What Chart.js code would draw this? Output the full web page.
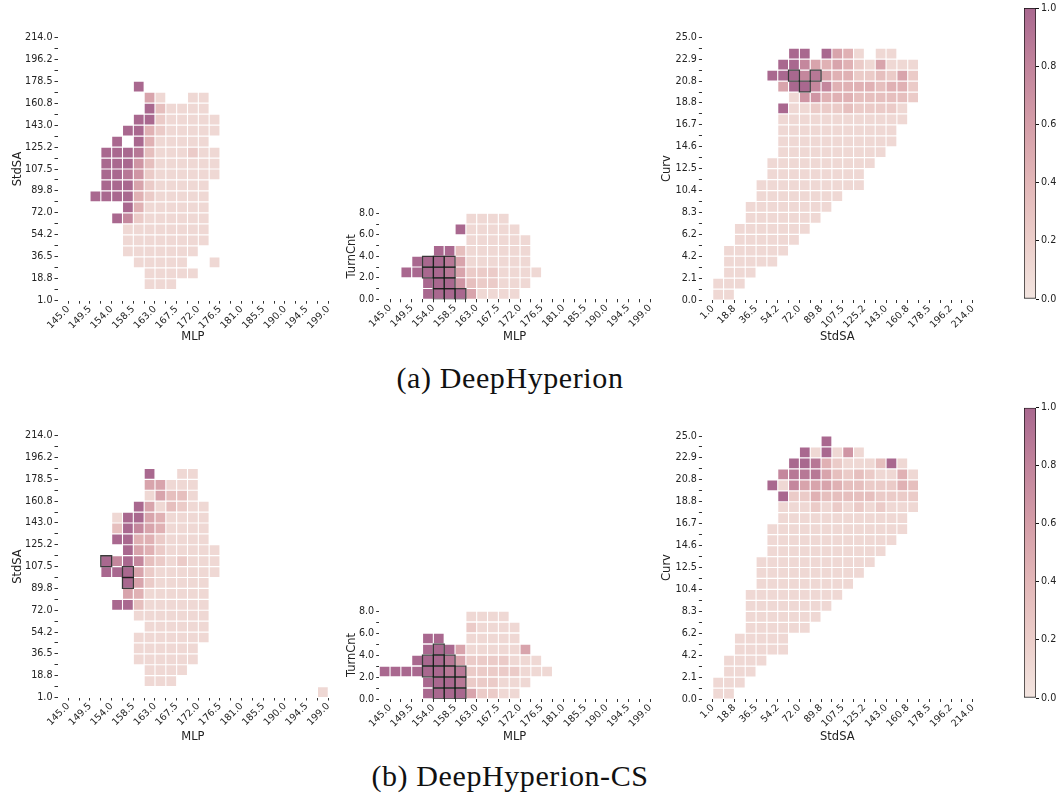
<!DOCTYPE html>
<html>
<head>
<meta charset="utf-8">
<script src="https://cdn.jsdelivr.net/npm/chart.js@4.4.1/dist/chart.umd.min.js"></script>
<style>
  html, body { margin: 0; padding: 0; background: #fff; }
  #fig { position: relative; width: 1060px; height: 796px; overflow: hidden; background: #fff; }
  #fig canvas { position: absolute; }
  .cap { position: absolute; left: 0; width: 1020px; text-align: center; line-height: 1;
         font-family: 'Liberation Serif', 'DejaVu Serif', serif; font-size: 30px; letter-spacing: 0.6px; color: #111; }
</style>
</head>
<body>
<div id="fig">
  <div class="cap" style="top:363px">(a) DeepHyperion</div>
  <div class="cap" style="top:761px">(b) DeepHyperion-CS</div>
</div>
<script>
// ---- tick labels (one label every second bin edge) ----
const mlpTicks = ['145.0','149.5','154.0','158.5','163.0','167.5','172.0','176.5','181.0','185.5','190.0','194.5','199.0'];
const stdsaTicks = ['1.0','18.8','36.5','54.2','72.0','89.8','107.5','125.2','143.0','160.8','178.5','196.2','214.0'];
const curvTicks = ['0.0','2.1','4.2','6.2','8.3','10.4','12.5','14.6','16.7','18.8','20.8','22.9','25.0'];
const turnCntTicks = ['0.0','2.0','4.0','6.0','8.0'];
const colorbarTicks = [0, 0.2, 0.4, 0.6, 0.8, 1.0];

// ---- feature-map cells: [row, first column, run]; '.' = empty bin, digit d = value d/9 ----
// DeepHyperion: StdSA vs MLP
const dhStdsaMlp = [
  [19, 6, '9'],
  [18, 7, '51..11'],
  [17, 7, '931111'],
  [16, 6, '99211111'],
  [15, 5, '994211111'],
  [14, 4, '9.9411111'],
  [13, 3, '99983111211'],
  [12, 3, '99963111111'],
  [11, 3, '99862111111'],
  [10, 3, '9995211111'],
  [9, 2, '99994211111'],
  [8, 5, '94111111'],
  [7, 4, '972111111'],
  [6, 5, '11111111'],
  [5, 5, '11111111'],
  [4, 5, '1111111'],
  [3, 6, '11111..1'],
  [2, 7, '11111'],
  [1, 7, '111']
];
// DeepHyperion: TurnCnt vs MLP
const dhTurnMlp = [
  [7, 7, '1111'],
  [6, 6, '911111'],
  [5, 7, '111111'],
  [4, 4, '993111111'],
  [3, 2, '99985111111'],
  [2, 1, '9999852221111'],
  [1, 3, '9996322111'],
  [0, 3, '999951111']
];
// DeepHyperion: Curv vs StdSA
const dhCurvStdsa = [
  [22, 7, '99.9541.11'],
  [21, 6, '9975454215111'],
  [20, 5, '99978544223252'],
  [19, 6, '5997744443442'],
  [18, 7, '166444333332'],
  [17, 6, '911222322221'],
  [16, 6, '111111111111'],
  [15, 6, '11111111111'],
  [14, 6, '11111111111'],
  [13, 6, '1111111111'],
  [12, 5, '1111111111'],
  [11, 5, '111111111'],
  [10, 4, '1111111111'],
  [9, 4, '11111111'],
  [8, 3, '11111111'],
  [7, 3, '1111111'],
  [6, 2, '1111111'],
  [5, 2, '111111'],
  [4, 1, '111111'],
  [3, 1, '11111'],
  [2, 1, '111'],
  [1, 0, '111'],
  [0, 0, '11']
];
// DeepHyperion-CS: StdSA vs MLP
const csStdsaMlp = [
  [20, 7, '9..11'],
  [19, 7, '55111'],
  [18, 7, '15331'],
  [17, 6, '9513211'],
  [16, 4, '199541111'],
  [15, 4, '397541111'],
  [14, 4, '994421111'],
  [13, 5, '954211111'],
  [12, 3, '97973212111'],
  [11, 3, '99952111111'],
  [10, 5, '95211111'],
  [9, 5, '54111111'],
  [8, 4, '993111111'],
  [7, 6, '1111111'],
  [6, 7, '111111'],
  [5, 6, '1111111'],
  [4, 6, '111111'],
  [3, 6, '111111'],
  [2, 7, '1111'],
  [1, 7, '111'],
  [0, 23, '1']
];
// DeepHyperion-CS: TurnCnt vs MLP
const csTurnMlp = [
  [7, 7, '1111'],
  [6, 7, '21111'],
  [5, 3, '99..11111'],
  [4, 3, '9995111115'],
  [3, 2, '999852222111'],
  [2, -1, '9999998822222111'],
  [1, 3, '9998222111'],
  [0, 3, '999952211']
];
// DeepHyperion-CS: Curv vs StdSA
const csCurvStdsa = [
  [23, 10, '9'],
  [22, 8, '919161'],
  [21, 7, '99842111391'],
  [20, 6, '7888532321141'],
  [19, 5, '91755543322243'],
  [18, 6, '9224333332222'],
  [17, 6, '1112121212111'],
  [16, 6, '111111111111'],
  [15, 5, '1111111111111'],
  [14, 5, '111111111111'],
  [13, 5, '11111111111'],
  [12, 4, '11111111111'],
  [11, 4, '1111111111'],
  [10, 4, '111111111'],
  [9, 3, '111111111'],
  [8, 3, '11111111'],
  [7, 3, '1111111'],
  [6, 3, '111111'],
  [5, 2, '11111'],
  [4, 2, '11111'],
  [3, 1, '1111'],
  [2, 1, '111'],
  [1, 0, '111'],
  [0, 0, '11']
];

// ---- highlighted bins: [column, row] ----
const dhTurnMlpMarked = [[3,3],[4,3],[5,3],[3,2],[4,2],[5,2],[4,1],[5,1],[4,0],[5,0],[6,0]];
const dhCurvStdsaMarked = [[7,20],[9,20],[8,19]];
const csStdsaMlpMarked = [[3,12],[5,11],[5,10]];
const csTurnMlpMarked = [[4,4],[3,3],[4,3],[5,3],[3,2],[4,2],[5,2],[6,2],[4,1],[5,1],[6,1],[4,0],[5,0],[6,0]];

// ---- colour scale (light rose to mauve) ----
const cmapStops = [
  [0.0, [243, 229, 224]],
  [0.2, [236, 206, 202]],
  [0.4, [227, 183, 184]],
  [0.6, [213, 158, 168]],
  [0.8, [194, 132, 156]],
  [1.0, [169, 104, 143]]
];
function rgb(c) { return 'rgb(' + c.map(Math.round).join(',') + ')'; }
function cmap(v) {
  v = Math.max(0, Math.min(1, v));
  for (let i = 1; i < cmapStops.length; i++) {
    const [t1, c1] = cmapStops[i];
    const [t0, c0] = cmapStops[i - 1];
    if (v <= t1) {
      const f = (v - t0) / (t1 - t0);
      return rgb(c0.map((a, k) => a + (c1[k] - a) * f));
    }
  }
  return rgb(cmapStops[cmapStops.length - 1][1]);
}

function cellPoints(runs) {
  const pts = [];
  runs.forEach(([row, col0, run]) => {
    [...run].forEach((ch, k) => {
      if (ch === '.') return;
      pts.push({ x: col0 + k + 0.5, y: row + 0.5, v: Number(ch) / 9 });
    });
  });
  return pts;
}
function markedPoints(list) {
  return list.map(([c, r]) => ({ x: c + 0.5, y: r + 0.5 }));
}
function range(n) { return Array.from({ length: n + 1 }, (_, i) => i); }

const TEXT = '#222';
const tickFont = { family: 'DejaVu Sans', size: 9.6 };
const titleFont = { family: 'DejaVu Sans', size: 11.5 };
const fig = document.getElementById('fig');

function addCanvas(box) {
  const [L, T, W, H] = box;
  const cv = document.createElement('canvas');
  cv.width = W; cv.height = H;
  cv.style.left = L + 'px'; cv.style.top = T + 'px';
  cv.style.width = W + 'px'; cv.style.height = H + 'px';
  fig.appendChild(cv);
  return cv;
}

// bin pitch in pixels, from the chart's own scales
function pitch(ctx) {
  const s = ctx.chart.scales;
  const px = Math.abs(s.x.getPixelForValue(1) - s.x.getPixelForValue(0));
  const py = Math.abs(s.y.getPixelForValue(1) - s.y.getPixelForValue(0));
  return Math.min(px, py);
}

function makePanel(p) {
  const [L, T, W, H] = p.box;
  const [al, at, ar, ab] = p.area;
  const cv = addCanvas(p.box);
  const nY = (p.yTicks.length - 1) * 2;
  const xIdx = range(24);
  const yIdx = range(nY);
  new Chart(cv, {
    type: 'scatter',
    data: {
      datasets: [
        {
          data: markedPoints(p.marked),
          order: 0,
          pointStyle: 'rect',
          pointBackgroundColor: 'rgba(0,0,0,0)',
          pointBorderColor: 'rgba(25,25,25,0.85)',
          pointBorderWidth: 1.3,
          pointRadius: ctx => pitch(ctx) / Math.SQRT2,
          pointHoverRadius: ctx => pitch(ctx) / Math.SQRT2
        },
        {
          data: cellPoints(p.cells),
          order: 1,
          pointStyle: 'rect',
          pointBackgroundColor: ctx => cmap(ctx.raw.v),
          pointBorderWidth: 0,
          pointRadius: ctx => (pitch(ctx) - 1.1) / Math.SQRT2,
          pointHoverRadius: ctx => (pitch(ctx) - 1.1) / Math.SQRT2
        }
      ]
    },
    options: {
      responsive: false,
      animation: false,
      events: [],
      devicePixelRatio: 1,
      layout: { padding: { left: 0, top: at - T, right: L + W - ar, bottom: 0 } },
      plugins: { legend: { display: false }, tooltip: { enabled: false } },
      scales: {
        x: {
          type: 'linear', min: -1, max: 24,
          afterBuildTicks: s => { s.ticks = xIdx.map(v => ({ value: v })); },
          afterFit: s => { s.height = T + H - ab; },
          ticks: {
            autoSkip: false, minRotation: 45, maxRotation: 45, padding: 0,
            font: tickFont, color: TEXT,
            callback: (v, i) => (i % 2 === 0 ? p.xTicks[i / 2] : '')
          },
          grid: { drawOnChartArea: false, drawTicks: true, tickLength: 3, tickColor: '#333', tickWidth: 1 },
          border: { display: false },
          title: { display: true, text: p.xTitle, font: titleFont, color: TEXT, padding: { top: 0, bottom: p.xTitlePad } }
        },
        y: {
          type: 'linear', min: 0, max: nY,
          afterBuildTicks: s => { s.ticks = yIdx.map(v => ({ value: v })); },
          afterFit: s => { s.width = al - L; },
          ticks: {
            autoSkip: false, padding: 2,
            font: tickFont, color: TEXT,
            callback: (v, i) => (i % 2 === 0 ? p.yTicks[i / 2] : '')
          },
          grid: { drawOnChartArea: false, drawTicks: true, tickLength: 3, tickColor: '#333', tickWidth: 1 },
          border: { display: false },
          title: { display: true, text: p.yTitle, font: titleFont, color: TEXT, padding: { top: p.yTitlePad, bottom: 0 } }
        }
      }
    }
  });
}

function makeColorbar(box, area) {
  const [L, T, W, H] = box;
  const [al, at, ar, ab] = area;
  const cv = addCanvas(box);
  new Chart(cv, {
    type: 'bar',
    data: {
      labels: [''],
      datasets: [{
        data: [[0, 1]],
        backgroundColor: ctx => {
          const a = ctx.chart.chartArea;
          if (!a) return cmap(0.5);
          const g = ctx.chart.ctx.createLinearGradient(0, a.bottom, 0, a.top);
          cmapStops.forEach(([t, c]) => g.addColorStop(t, rgb(c)));
          return g;
        },
        borderColor: '#111',
        borderWidth: 1,
        borderSkipped: false,
        barPercentage: 1,
        categoryPercentage: 1
      }]
    },
    options: {
      responsive: false,
      animation: false,
      events: [],
      devicePixelRatio: 1,
      layout: { padding: { left: al - L, top: at - T, right: 0, bottom: T + H - ab } },
      plugins: { legend: { display: false }, tooltip: { enabled: false } },
      scales: {
        x: { display: false },
        y: {
          position: 'right', min: 0, max: 1,
          afterBuildTicks: s => { s.ticks = colorbarTicks.map(v => ({ value: v })); },
          afterFit: s => { s.width = L + W - ar; },
          ticks: { padding: 2, font: tickFont, color: TEXT, callback: v => Number(v).toFixed(1) },
          grid: { drawOnChartArea: false, drawTicks: true, tickLength: 3, tickColor: '#111' },
          border: { display: false }
        }
      }
    }
  });
}

// ---- panels ----
makePanel({ cells: dhStdsaMlp, marked: [], xTicks: mlpTicks, yTicks: stdsaTicks, xTitle: 'MLP', yTitle: 'StdSA',
  box: [0, 0, 345, 352], area: [57.5, 37.3, 328.3, 300.7], xTitlePad: 8.4, yTitlePad: 10.8 });
makePanel({ cells: dhTurnMlp, marked: dhTurnMlpMarked, xTicks: mlpTicks, yTicks: turnCntTicks, xTitle: 'MLP', yTitle: 'TurnCnt',
  box: [340, 190, 320, 162], area: [379.2, 213.3, 650, 299.3], xTitlePad: 8.4, yTitlePad: 5.1 });
makePanel({ cells: dhCurvStdsa, marked: dhCurvStdsaMarked, xTicks: stdsaTicks, yTicks: curvTicks, xTitle: 'StdSA', yTitle: 'Curv',
  box: [655, 0, 330, 352], area: [701.9, 37.3, 972.7, 300], xTitlePad: 8.4, yTitlePad: 4.8 });

makePanel({ cells: csStdsaMlp, marked: csStdsaMlpMarked, xTicks: mlpTicks, yTicks: stdsaTicks, xTitle: 'MLP', yTitle: 'StdSA',
  box: [0, 400, 345, 351], area: [57.5, 435.7, 328.3, 697.5], xTitlePad: 7.1, yTitlePad: 10.8 });
makePanel({ cells: csTurnMlp, marked: csTurnMlpMarked, xTicks: mlpTicks, yTicks: turnCntTicks, xTitle: 'MLP', yTitle: 'TurnCnt',
  box: [340, 590, 320, 161], area: [379.2, 611, 650, 699], xTitlePad: 7.1, yTitlePad: 5.1 });
makePanel({ cells: csCurvStdsa, marked: [], xTicks: stdsaTicks, yTicks: curvTicks, xTitle: 'StdSA', yTitle: 'Curv',
  box: [655, 400, 330, 351], area: [701.9, 436, 972.7, 699], xTitlePad: 7.1, yTitlePad: 4.8 });

makeColorbar([1000, 0, 60, 310], [1024, 8, 1036, 299]);
makeColorbar([1000, 400, 60, 310], [1024, 407, 1036, 698]);
</script>
</body>
</html>
